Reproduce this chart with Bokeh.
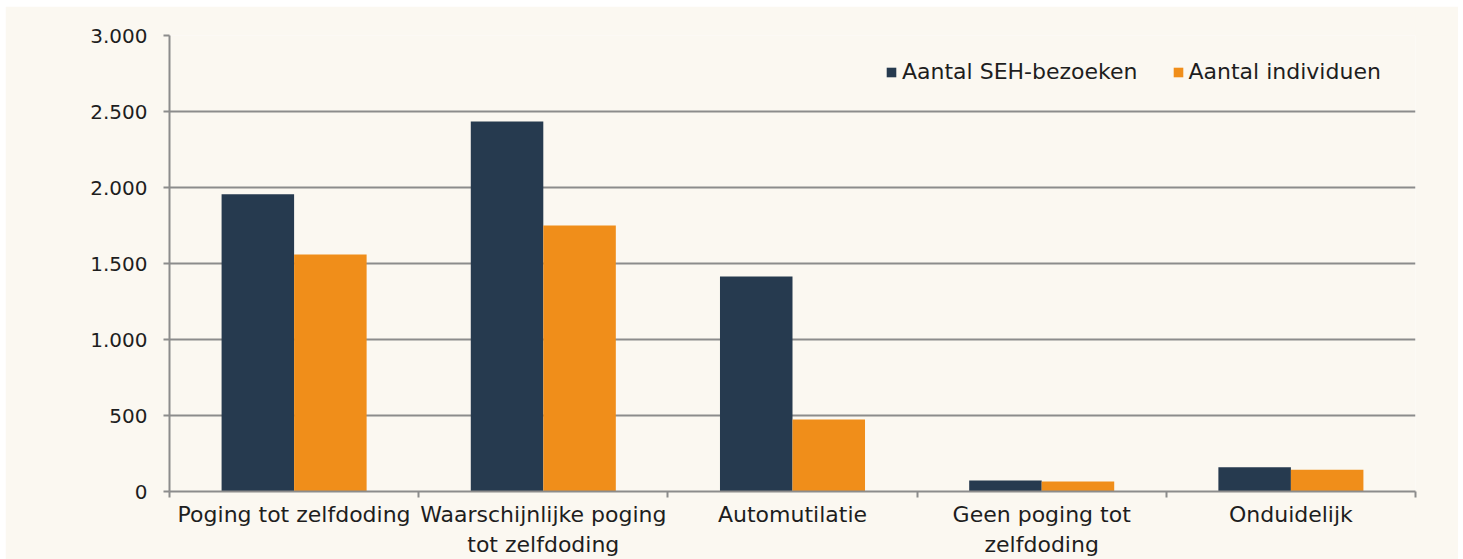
from bokeh.plotting import figure
from bokeh.models import (Range1d, LinearAxis, FixedTicker,
                          Legend, LegendItem, ColumnDataSource)
from bokeh.transform import dodge
from bokeh.embed import file_html
from bokeh.resources import INLINE

categories = ["Poging tot zelfdoding", "Waarschijnlijke poging tot zelfdoding",
              "Automutilatie", "Geen poging tot zelfdoding", "Onduidelijk"]
category_labels = ["Poging tot zelfdoding", "Waarschijnlijke poging\ntot zelfdoding",
                   "Automutilatie", "Geen poging tot\nzelfdoding", "Onduidelijk"]
seh_bezoeken = [1955, 2435, 1415, 72, 160]
individuen = [1560, 1750, 474, 66, 143]
series_names = ["Aantal SEH-bezoeken", "Aantal individuen"]
y_ticks = [0, 500, 1000, 1500, 2000, 2500, 3000]
y_tick_labels = ["0", "500", "1.000", "1.500", "2.000", "2.500", "3.000"]

FONT = "DejaVu Sans"
BG = "#FBF8F1"
GRID = "#8C8C8C"
DARK = "#263A4F"
ORANGE = "#F08E1A"
TXT = "#1E1E1E"

n = len(categories)
centers = [i + 0.5 for i in range(n)]
bounds = list(range(n + 1))

src = ColumnDataSource(dict(x=centers, cat=categories, seh=seh_bezoeken, ind=individuen))

p = figure(width=1453, height=553, x_range=Range1d(0, n),
           y_range=Range1d(0, 3000), output_backend="svg", toolbar_location=None,
           x_axis_location=None, y_axis_location=None,
           background_fill_color=BG, border_fill_color=BG, outline_line_color=None,
           min_border_left=164, min_border_right=43, min_border_top=29, min_border_bottom=68)
p.margin = (6, 5, 0, 5)

r1 = p.vbar(x=dodge("x", -0.1455), top="seh", width=0.291, source=src,
            fill_color=DARK, line_color=None)
r2 = p.vbar(x=dodge("x", 0.1455), top="ind", width=0.291, source=src,
            fill_color=ORANGE, line_color=None)

# y axis
yax = LinearAxis(ticker=FixedTicker(ticks=y_ticks),
                 major_label_overrides={t: l for t, l in zip(y_ticks, y_tick_labels)})
yax.axis_line_color = GRID
yax.axis_line_width = 2
yax.major_tick_line_color = GRID
yax.major_tick_line_width = 2
yax.major_tick_out = 6
yax.major_tick_in = 0
yax.minor_tick_line_color = None
yax.major_label_text_font = FONT
yax.major_label_text_font_size = "20px"
yax.major_label_text_color = TXT
yax.major_label_standoff = 16
p.add_layout(yax, "left")

p.ygrid.grid_line_color = GRID
p.ygrid.grid_line_width = 2
p.ygrid.ticker = FixedTicker(ticks=y_ticks)
p.xgrid.grid_line_color = None

# x axis: labels at category centres, minor ticks at category boundaries
xax = LinearAxis(ticker=FixedTicker(ticks=centers, minor_ticks=bounds),
                 major_label_overrides={c: l for c, l in zip(centers, category_labels)})
xax.axis_line_color = GRID
xax.axis_line_width = 2
xax.major_tick_line_color = None
xax.major_tick_out = 0
xax.major_tick_in = 0
xax.minor_tick_line_color = GRID
xax.minor_tick_line_width = 2
xax.minor_tick_out = 6
xax.minor_tick_in = 0
xax.major_label_text_font = FONT
xax.major_label_text_font_size = "22px"
xax.major_label_text_color = TXT
xax.major_label_standoff = 4
p.add_layout(xax, "below")

legend = Legend(items=[LegendItem(label=series_names[0], renderers=[r1]),
                       LegendItem(label=series_names[1], renderers=[r2])],
                orientation="horizontal", location=(716, 407))
legend.background_fill_alpha = 0
legend.border_line_color = None
legend.label_text_font = FONT
legend.label_text_font_size = "22px"
legend.label_text_color = TXT
legend.glyph_width = 12
legend.glyph_height = 12
legend.label_standoff = 5
legend.spacing = 34
legend.margin = 0
legend.padding = 0
p.add_layout(legend)

open("out.html", "w").write(file_html(p, INLINE))
